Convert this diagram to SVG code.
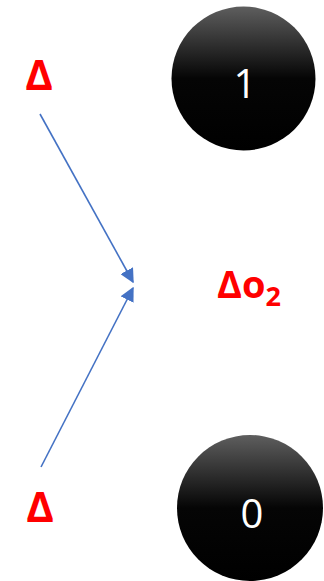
<svg xmlns="http://www.w3.org/2000/svg" width="324" height="581" viewBox="0 0 324 581">
<style>
.delta{font-family:"Open Sans","Liberation Sans",sans-serif;font-weight:bold;fill:#ff0000;}
.num{font-family:"Open Sans","Liberation Sans",sans-serif;fill:#ffffff;font-size:40px;text-anchor:middle;}
.conn{stroke:#4472c4;stroke-width:1.6;fill:none;marker-end:url(#arr);}
</style>
<defs>
<linearGradient id="g" x1="0" y1="0" x2="0" y2="1">
<stop offset="0" stop-color="#5e5e5e"/>
<stop offset="0.5" stop-color="#050505"/>
<stop offset="1" stop-color="#000000"/>
</linearGradient>
<marker id="arr" viewBox="0 0 10 10" refX="9" refY="5" markerWidth="9" markerHeight="9" orient="auto" markerUnits="strokeWidth">
<path d="M0,0 L10,5 L0,10 z" fill="#4472c4"/>
</marker>
</defs>
<g id="node-1">
<circle cx="243.5" cy="78.5" r="72" fill="url(#g)"/>
<text class="num" x="245" y="98">1</text>
</g>
<g id="node-0">
<circle cx="250" cy="508" r="73" fill="url(#g)"/>
<text class="num" x="252" y="528">0</text>
</g>
<g id="delta-top"><text class="delta" x="39" y="90" font-size="42" text-anchor="middle">Δ</text></g>
<g id="delta-bottom"><text class="delta" x="40" y="522" font-size="42" text-anchor="middle">Δ</text></g>
<g id="delta-o2"><text class="delta" x="217" y="298" font-size="38">Δo<tspan font-size="27" dy="8">2</tspan></text></g>
<g id="connectors">
<line class="conn" x1="40" y1="114" x2="133" y2="282"/>
<line class="conn" x1="41" y1="467" x2="133" y2="288"/>
</g>
</svg>
